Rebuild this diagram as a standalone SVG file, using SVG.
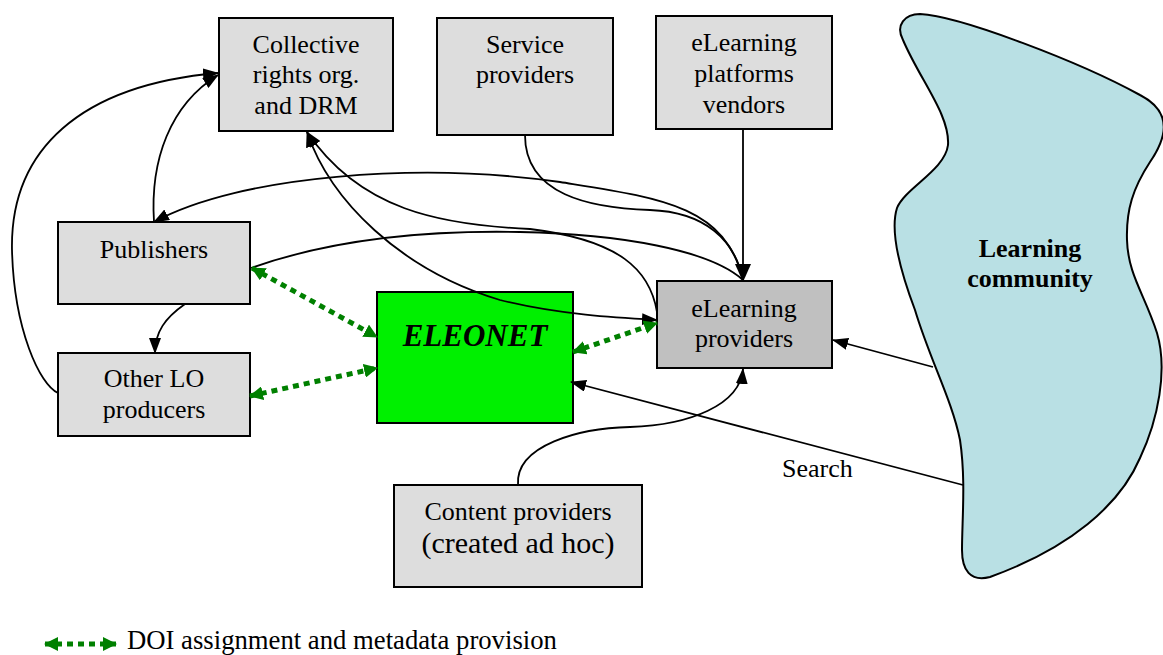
<svg xmlns="http://www.w3.org/2000/svg" width="1163" height="655" viewBox="0 0 1163 655">
<style>
.box{fill:#dddddd;stroke:#000;stroke-width:2}
.t{font-family:"Liberation Serif","Times New Roman",serif;font-size:26px;fill:#000;text-anchor:middle}
.c{fill:none;stroke:#000;stroke-width:1.8}
.g{fill:none;stroke:#008000;stroke-width:5;stroke-dasharray:6 5}
</style>
<defs>
<marker id="ah" markerUnits="userSpaceOnUse" markerWidth="16" markerHeight="12" refX="15" refY="6" orient="auto-start-reverse">
<path d="M0,0 L16,6 L0,12 z" fill="#000"/>
</marker>
<marker id="ahb" markerUnits="userSpaceOnUse" markerWidth="18" markerHeight="16" refX="17" refY="8" orient="auto">
<path d="M0,0 L18,8 L0,16 z" fill="#000"/>
</marker>
<marker id="ga" markerUnits="userSpaceOnUse" markerWidth="14" markerHeight="14" refX="13" refY="7" orient="auto-start-reverse">
<path d="M0,0 L14,7 L0,14 z" fill="#008000"/>
</marker>
</defs>

<g id="learning-community">
<path d="M 920,14 C 960,16 1080,62 1140,95 C 1175,113 1165,140 1150,162 C 1133,188 1126,210 1127,240 C 1128,275 1145,295 1157,333 C 1168,370 1158,420 1140,458 C 1120,505 1070,548 990,577 C 970,582 962,570 962,550 C 962,520 966,480 960,440 C 952,400 930,360 915,310 C 898,265 890,230 897,208 C 905,188 945,170 948,145 C 950,115 920,80 903,40 C 895,25 905,14 920,14 Z" fill="#b9e0e4" stroke="#000" stroke-width="2"/>
<text class="t" x="1030" y="257" font-weight="bold">Learning</text>
<text class="t" x="1030" y="287" font-weight="bold">community</text>
</g>

<g id="collective-rights">
<rect class="box" x="219" y="18" width="174" height="113"/>
<text class="t" x="306" y="53">Collective</text>
<text class="t" x="306" y="83">rights org.</text>
<text class="t" x="306" y="114">and DRM</text>
</g>
<g id="service-providers">
<rect class="box" x="437" y="18" width="176" height="117"/>
<text class="t" x="525" y="53">Service</text>
<text class="t" x="525" y="83">providers</text>
</g>
<g id="platform-vendors">
<rect class="box" x="656" y="16" width="176" height="113"/>
<text class="t" x="744" y="51">eLearning</text>
<text class="t" x="744" y="82">platforms</text>
<text class="t" x="744" y="113">vendors</text>
</g>
<g id="publishers">
<rect class="box" x="58" y="222" width="192" height="82"/>
<text class="t" x="154" y="258">Publishers</text>
</g>
<g id="other-lo-producers">
<rect class="box" x="58" y="353" width="192" height="83"/>
<text class="t" x="154" y="387">Other LO</text>
<text class="t" x="154" y="418">producers</text>
</g>
<g id="eleonet">
<rect x="377" y="292" width="196" height="131" fill="#00f000" stroke="#000" stroke-width="2"/>
<text class="t" x="475" y="346" style="font-size:31px;font-weight:bold;font-style:italic">ELEONET</text>
</g>
<g id="elearning-providers">
<rect x="657" y="281" width="175" height="87" fill="#c0c0c0" stroke="#000" stroke-width="2"/>
<text class="t" x="744" y="317">eLearning</text>
<text class="t" x="744" y="347">providers</text>
</g>
<g id="content-providers">
<rect class="box" x="394" y="485" width="248" height="102"/>
<text class="t" x="518" y="520">Content providers</text>
<text class="t" x="518" y="553" style="font-size:30px">(created ad hoc)</text>
</g>

<g id="connectors">
<path class="c" d="M 154,222 C 150,160 170,105 218,75" marker-end="url(#ah)"/>
<path class="c" d="M 58,393 C 40,385 14,330 12,250 C 10,150 80,85 218,73" marker-end="url(#ah)"/>
<path class="c" d="M 185,304 C 165,318 155,332 155,353" marker-end="url(#ah)"/>
<path class="c" d="M 743,280 C 725,205 660,198 560,182 C 420,162 240,175 154,222" marker-end="url(#ah)"/>
<path class="c" d="M 525,135 C 525,195 590,208 650,210 C 705,212 735,240 743,280"/>
<path class="c" d="M 251,268 C 330,240 420,230 520,232 C 620,234 710,250 743,280"/>
<path class="c" d="M 743,129 L 743,281" marker-end="url(#ahb)"/>
<path class="c" d="M 657,312 C 650,270 620,240 530,229 C 440,225 360,210 307,132" marker-end="url(#ah)"/>
<path class="c" d="M 307,132 C 330,200 400,270 500,300 C 560,315 620,318 657,320" marker-start="url(#ah)" marker-end="url(#ah)"/>
<path class="c" d="M 518,485 C 515,445 580,428 630,427 C 690,425 740,405 743,369" marker-end="url(#ah)"/>
<path class="c" d="M 933,367 L 833,340" marker-end="url(#ah)"/>
<path class="c" d="M 963,485 L 571,382" marker-end="url(#ah)"/>
<path class="g" d="M 252,268 L 377,337" marker-start="url(#ga)" marker-end="url(#ga)"/>
<path class="g" d="M 250,396 L 377,368" marker-start="url(#ga)" marker-end="url(#ga)"/>
<path class="g" d="M 573,352 L 657,323" marker-start="url(#ga)" marker-end="url(#ga)"/>
</g>

<text class="t" x="782" y="477" style="text-anchor:start">Search</text>

<g id="legend">
<path class="g" d="M 45,644 L 116,644" marker-start="url(#ga)" marker-end="url(#ga)"/>
<text class="t" x="127" y="649" style="font-size:26.7px;text-anchor:start">DOI assignment and metadata provision</text>
</g>
</svg>
